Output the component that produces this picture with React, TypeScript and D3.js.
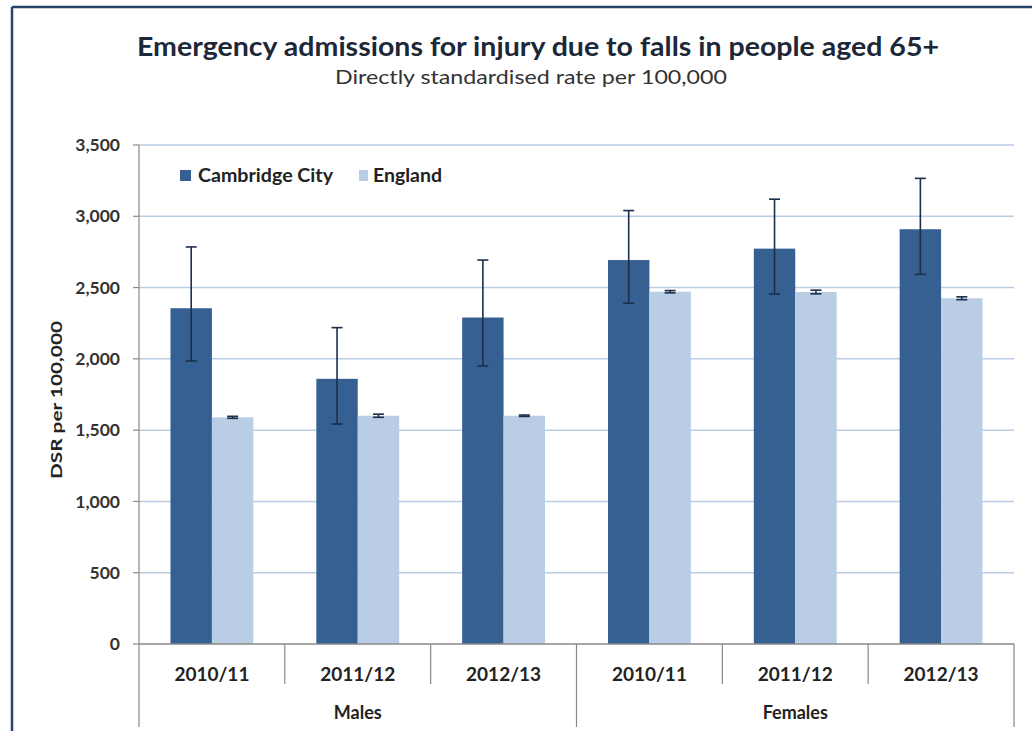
import React from 'react';
import * as d3 from 'd3';

const categories = ['2010/11', '2011/12', '2012/13', '2010/11', '2011/12', '2012/13'];
const groups = ['Males', 'Females'];
const seriesNames = ['Cambridge City', 'England'];
const cambridge = [2355, 1860, 2290, 2693, 2773, 2909];
const cambridgeLow = [1985, 1543, 1950, 2390, 2455, 2593];
const cambridgeHigh = [2785, 2219, 2693, 3040, 3120, 3266];
const england = [1590, 1601, 1601, 2471, 2469, 2425];
const englandLow = [1583, 1590, 1596, 2463, 2456, 2415];
const englandHigh = [1597, 1612, 1606, 2479, 2482, 2435];
const yTicks = [0, 500, 1000, 1500, 2000, 2500, 3000, 3500];

const W = 1032;
const H = 731;
const left = 139;
const right = 1014;
const top = 145;
const bottom = 644;
const colors = ['#376092', '#B9CDE5'];
const font = 'Lato, "Open Sans", sans-serif';

export default function App() {
  const y = d3.scaleLinear().domain([0, 3500]).range([bottom, top]);
  const x = d3.scaleBand<number>().domain(d3.range(categories.length)).range([left, right]).padding(0);
  const inner = d3.scaleBand<string>().domain(seriesNames).range([0, x.bandwidth()]).paddingInner(0).paddingOuter(0.76);
  const fmt = d3.format(',');
  const values = [cambridge, england];
  const lows = [cambridgeLow, englandLow];
  const highs = [cambridgeHigh, englandHigh];
  const groupSize = categories.length / groups.length;

  return (
    <svg width={W} height={H} style={{ position: 'absolute', left: 0, top: 0, background: '#fff' }} fontFamily={font}>
      <rect x={0} y={0} width={W} height={H} fill="#fff" />
      {/* frame */}
      <line x1={12} y1={7} x2={W} y2={7} stroke="#27446b" strokeWidth={2.5} />
      <line x1={12} y1={7} x2={12} y2={H} stroke="#27446b" strokeWidth={2.5} />

      <text x={538} y={56} textAnchor="middle" fontSize={26} fontWeight={700} fill="#1c2738" textLength={802} lengthAdjust="spacingAndGlyphs">
        Emergency admissions for injury due to falls in people aged 65+
      </text>
      <text x={531} y={84} textAnchor="middle" fontSize={20} fill="#333" textLength={392} lengthAdjust="spacingAndGlyphs">
        Directly standardised rate per 100,000
      </text>

      {/* gridlines */}
      {yTicks.filter(t => t > 0).map(t => (
        <line key={'g' + t} x1={left} x2={right} y1={y(t)} y2={y(t)} stroke="#B9CDE5" strokeWidth={1.5} />
      ))}
      {yTicks.map(t => (
        <g key={'t' + t}>
          <line x1={left - 6} x2={left} y1={y(t)} y2={y(t)} stroke="#898989" strokeWidth={1.2} />
          <text x={120} y={y(t)} dy="0.35em" textAnchor="end" fontSize={17.5} fontWeight={700} fill="#333">
            {fmt(t)}
          </text>
        </g>
      ))}

      {/* bars */}
      {values.map((vals, s) =>
        vals.map((v, i) => (
          <rect
            key={`b${s}-${i}`}
            x={(x(i) as number) + (inner(seriesNames[s]) as number)}
            y={y(v)}
            width={inner.bandwidth()}
            height={bottom - y(v)}
            fill={colors[s]}
          />
        ))
      )}
      {/* error bars */}
      {values.map((vals, s) =>
        vals.map((v, i) => {
          const cx = (x(i) as number) + (inner(seriesNames[s]) as number) + inner.bandwidth() / 2;
          const lo = y(lows[s][i]);
          const hi = y(highs[s][i]);
          return (
            <g key={`e${s}-${i}`} stroke="#1b2f4a" strokeWidth={1.6}>
              <line x1={cx} x2={cx} y1={hi} y2={lo} />
              <line x1={cx - 5.5} x2={cx + 5.5} y1={hi} y2={hi} />
              <line x1={cx - 5.5} x2={cx + 5.5} y1={lo} y2={lo} />
            </g>
          );
        })
      )}

      {/* axes */}
      <line x1={left} x2={left} y1={top} y2={727} stroke="#898989" strokeWidth={1.2} />
      <line x1={left} x2={right} y1={bottom} y2={bottom} stroke="#898989" strokeWidth={1.5} />
      {d3.range(1, categories.length + 1).map(i => {
        const xx = i === categories.length ? right : (x(i) as number);
        const long = i % groupSize === 0;
        return <line key={'d' + i} x1={xx} x2={xx} y1={bottom} y2={long ? 727 : 684} stroke="#898989" strokeWidth={1.2} />;
      })}
      {categories.map((c, i) => (
        <text key={'c' + i} x={(x(i) as number) + x.bandwidth() / 2} y={674} dy="0.35em" textAnchor="middle" fontSize={19} fontWeight={700} fill="#222">
          {c}
        </text>
      ))}
      {groups.map((g, k) => {
        const x0 = x(k * groupSize) as number;
        const x1 = k === groups.length - 1 ? right : (x((k + 1) * groupSize) as number);
        return (
          <text key={'gr' + g} x={(x0 + x1) / 2} y={713} dy="0.35em" textAnchor="middle" fontSize={18} fontWeight={700} fill="#222">
            {g}
          </text>
        );
      })}

      <text transform="translate(56,400) rotate(-90)" textAnchor="middle" dy="0.35em" fontSize={16} fontWeight={700} fill="#222" textLength={158} lengthAdjust="spacingAndGlyphs">
        DSR per 100,000
      </text>

      {/* legend */}
      <rect x={180} y={170} width={11} height={11} fill={colors[0]} />
      <text x={198} y={176} dy="0.35em" fontSize={18} fontWeight={700} fill="#222" textLength={135} lengthAdjust="spacingAndGlyphs">
        {seriesNames[0]}
      </text>
      <rect x={359} y={170} width={9} height={11} fill={colors[1]} />
      <text x={373} y={176} dy="0.35em" fontSize={18} fontWeight={700} fill="#222" textLength={69} lengthAdjust="spacingAndGlyphs">
        {seriesNames[1]}
      </text>
    </svg>
  );
}
